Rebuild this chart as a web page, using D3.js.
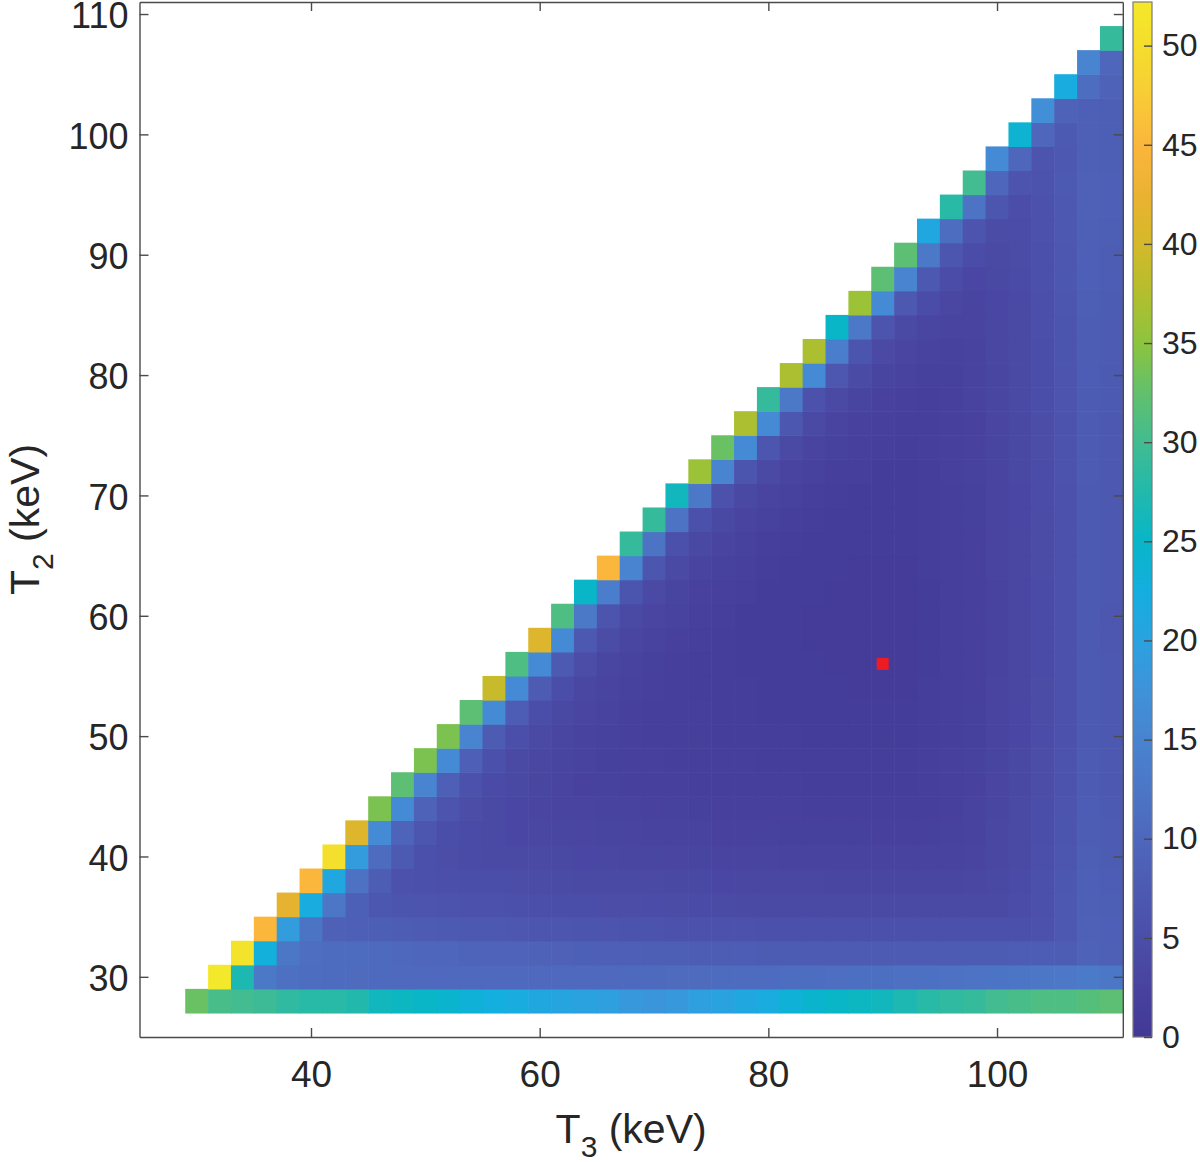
<!DOCTYPE html>
<html><head><meta charset="utf-8">
<script src="https://cdn.jsdelivr.net/npm/d3@7"></script>
<style>
body{margin:0;background:#fff}
svg{display:block}
text{font-family:"Liberation Sans",Arial,Helvetica,sans-serif;fill:#262626}
</style>
</head><body>
<svg id="chart" width="1200" height="1162"></svg>
<script>
// ---------- data ----------
const t3Values = [30,32,34,36,38,40,42,44,46,48,50,52,54,56,58,60,62,64,66,68,70,72,74,76,78,80,82,84,86,88,90,92,94,96,98,100,102,104,106,108,110];
const t2Values = [28,30,32,34,36,38,40,42,44,46,48,50,52,54,56,58,60,62,64,66,68,70,72,74,76,78,80,82,84,86,88,90,92,94,96,98,100,102,104,106,108];
// one row per T2 value; each row starts at T3 = T2 + 2 and runs to T3 = 110
const cellRows = [
 [33,30.5,30,29.5,28.5,28,28,27.5,26,25.5,25,24.5,23.5,22.5,22,21,20.5,20,19.5,18.5,18,18.5,19.5,20,21,22,23.5,24.5,25,25.5,26,27,28,28.5,29,30,30.5,31,31,31.5,32],
 [52.2,27,13,11.5,11,10.8,10.6,10.5,10.4,10.4,10.3,10.3,10.3,10.3,10.3,10.3,10.4,10.4,10.5,10.5,10.6,10.6,10.7,10.8,10.9,11.0,11.1,11.2,11.3,11.4,11.5,11.6,11.8,12.0,12.2,12.4,12.6,12.8,13.2,12.5],
 [51,23,12.5,11.2,10.9,10.7,10.5,10.2,10.0,9.8,9.5,9.3,9.2,9.0,8.8,8.7,8.5,8.4,8.3,8.2,8.1,8.0,7.9,7.8,7.8,7.7,7.7,7.7,7.7,7.7,7.7,7.7,7.8,7.8,7.9,7.9,8.0,9.1,8.6],
 [45,19,12.2,8.8,8.5,8.2,8.0,7.7,7.5,7.3,7.1,6.9,6.7,6.6,6.4,6.3,6.1,6.0,5.9,5.8,5.7,5.7,5.6,5.5,5.5,5.5,5.5,5.4,5.4,5.5,5.5,5.5,5.6,5.6,5.9,7.2,8.8,8.4],
 [42,22,12.6,8.7,6.8,6.5,6.3,6.1,5.9,5.7,5.5,5.3,5.1,5.0,4.8,4.7,4.6,4.5,4.4,4.3,4.2,4.2,4.1,4.1,4.0,4.0,4.0,4.0,4.0,4.1,4.1,4.1,4.6,5.6,7.0,8.6,8.2],
 [45,21,11.8,8.1,5.9,5.5,5.3,5.1,4.9,4.7,4.5,4.3,4.2,4.0,3.9,3.8,3.7,3.6,3.5,3.4,3.3,3.3,3.3,3.2,3.2,3.2,3.2,3.2,3.2,3.3,3.6,4.4,5.4,6.8,8.4,7.9],
 [50.5,19,10.8,7.4,5.5,4.8,4.4,4.2,4.0,3.8,3.6,3.5,3.3,3.2,3.1,3.0,2.9,2.8,2.7,2.7,2.6,2.6,2.5,2.5,2.5,2.5,2.5,2.6,2.8,3.4,4.2,5.2,6.6,8.2,7.8],
 [41,16,9.5,6.7,5.1,4.4,3.8,3.5,3.3,3.2,3.0,2.9,2.7,2.6,2.5,2.4,2.3,2.3,2.2,2.1,2.1,2.1,2.1,2.0,2.0,2.1,2.2,2.6,3.3,4.0,5.1,6.4,8.0,7.6],
 [34,16,9.1,6.3,4.7,4.0,3.5,3.0,2.8,2.7,2.5,2.4,2.3,2.2,2.1,2.0,1.9,1.8,1.8,1.7,1.7,1.7,1.7,1.7,1.7,2.0,2.5,3.1,3.9,4.9,6.3,7.9,7.4],
 [32,15,8.4,5.8,4.4,3.7,3.2,2.7,2.3,2.2,2.0,1.9,1.8,1.7,1.6,1.6,1.5,1.5,1.4,1.4,1.4,1.4,1.4,1.6,1.9,2.3,3.0,3.7,4.8,6.1,7.7,7.3],
 [34,16,8.4,5.6,4.1,3.4,2.9,2.5,2.1,1.9,1.8,1.7,1.6,1.5,1.5,1.4,1.3,1.3,1.3,1.3,1.3,1.3,1.5,1.8,2.2,2.9,3.6,4.7,6.0,7.6,7.2],
 [34,15,7.8,5.2,3.9,3.2,2.6,2.2,1.9,1.7,1.6,1.5,1.4,1.4,1.3,1.3,1.2,1.2,1.2,1.2,1.2,1.4,1.7,2.1,2.8,3.5,4.6,5.9,7.5,7.1],
 [32,16,7.9,5.1,3.6,3.0,2.4,2.0,1.7,1.6,1.5,1.4,1.3,1.2,1.2,1.1,1.1,1.1,1.1,1.1,1.3,1.6,2.1,2.7,3.5,4.5,5.9,7.5,7.0],
 [39,16,7.6,4.9,3.4,2.8,2.2,1.9,1.5,1.4,1.3,1.3,1.2,1.1,1.1,1.1,1.0,1.0,1.0,1.3,1.6,2.0,2.7,3.4,4.5,5.8,7.4,7.0],
 [31,16,7.4,4.7,3.2,2.6,2.1,1.7,1.4,1.3,1.2,1.2,1.1,1.1,1.0,1.0,0.8,1.0,1.2,1.6,2.0,2.6,3.4,4.4,5.8,7.4,7.0],
 [41,16,7.3,4.5,3.1,2.5,2.0,1.6,1.3,1.2,1.1,1.1,1.0,1.0,1.0,1.0,1.0,1.2,1.5,2.0,2.6,3.4,4.4,5.8,7.4,6.9],
 [31,13,6.2,4.1,3.0,2.4,1.9,1.5,1.2,1.1,1.1,1.0,1.0,1.0,1.0,1.0,1.2,1.5,2.0,2.6,3.4,4.4,5.8,7.4,6.9],
 [25,14,6.4,4.1,2.9,2.3,1.8,1.5,1.2,1.1,1.1,1.0,1.0,1.0,1.0,1.2,1.6,2.0,2.6,3.4,4.4,5.8,7.4,7.0],
 [45,15,6.6,4.1,2.8,2.2,1.8,1.4,1.1,1.1,1.1,1.0,1.0,1.0,1.3,1.6,2.0,2.7,3.4,4.5,5.8,7.4,7.0],
 [29,12,5.6,3.7,2.8,2.2,1.7,1.4,1.1,1.1,1.1,1.1,1.1,1.3,1.6,2.0,2.7,3.4,4.5,5.9,7.4,7.0],
 [29,12,5.6,3.6,2.7,2.2,1.7,1.4,1.1,1.1,1.1,1.1,1.3,1.7,2.1,2.7,3.5,4.5,5.9,7.5,7.1],
 [26,13,5.8,3.7,2.7,2.2,1.7,1.4,1.2,1.2,1.2,1.4,1.7,2.1,2.8,3.5,4.6,5.9,7.5,7.1],
 [36,15,6.4,4.0,2.7,2.2,1.7,1.5,1.2,1.2,1.4,1.8,2.2,2.8,3.6,4.6,6.0,7.6,7.2],
 [33,16,6.7,4.1,2.7,2.2,1.8,1.5,1.3,1.5,1.8,2.3,2.9,3.6,4.7,6.1,7.6,7.2],
 [37,16,6.8,4.1,2.8,2.3,1.9,1.6,1.6,1.9,2.3,3.0,3.7,4.8,6.1,7.7,7.3],
 [29,13,5.9,3.8,2.9,2.3,1.9,1.7,2.0,2.4,3.1,3.8,4.9,6.2,7.8,7.4],
 [37,16,6.9,4.3,2.9,2.4,2.1,2.1,2.5,3.2,3.9,5.0,6.3,7.9,7.5],
 [37,14,6.4,4.1,3.0,2.6,2.2,2.6,3.3,4.0,5.1,6.4,8.0,7.6],
 [25,13,6.2,4.1,3.2,2.7,2.7,3.4,4.1,5.2,6.5,8.1,7.7],
 [36,16,7.2,4.6,3.3,2.8,3.5,4.2,5.3,6.7,8.2,7.8],
 [32,15,7.0,4.6,3.5,3.6,4.4,5.4,6.8,8.4,7.9],
 [32,13,6.6,4.6,3.8,4.5,5.6,6.9,8.5,8.1],
 [21,11,6.2,4.5,4.6,5.7,7.1,8.6,8.2],
 [28,12,6.7,4.8,5.9,7.2,8.8,8.4],
 [30,10,6.3,6.0,7.4,8.8,8.4],
 [16,10,6.3,7.3,8.6,8.3],
 [24,10,7.4,8.6,8.3],
 [17,9,8.5,8.3],
 [22,11,9.0],
 [15,10],
 [29]
];
const bestFit = [90, 56];          // [T3, T2] of the red marker
const xTicks = [40, 60, 80, 100];
const yTicks = [30, 40, 50, 60, 70, 80, 90, 100, 110];
const cbTicks = [0, 5, 10, 15, 20, 25, 30, 35, 40, 45, 50];
const cbMax = 52.2;

// colormap (parula-like, as seen in the colorbar)
const cmapVals = [0,2.5,5,7.5,10,12.5,15,17.5,20,22.5,25,27.5,30,32.5,35,37.5,40,42.5,45,47.5,50,52.2];
const cmapCols = ["#433896","#48439f","#4b4ea8","#4d5ab2","#4e67bc","#4c76c6","#4884d0","#3f92d9","#2aa2e0","#14aedf","#08b6c8","#22b9ac","#42bc90","#62c06c","#8cc43e","#b3be2e","#d4b92a","#ebb232","#fbb63c","#f8cc36","#f4de2c","#f4e82a"];

// ---------- drawing ----------
const svg = d3.select("#chart");
const x = d3.scaleLinear().domain([25, 111]).range([139.5, 1122.8]);
const y = d3.scaleLinear().domain([25, 111]).range([1037, 2]);
const color = d3.scaleLinear().domain(cmapVals).range(cmapCols).interpolate(d3.interpolateRgb).clamp(true);

const cells = [];
cellRows.forEach((row, i) => {
  row.forEach((v, j) => cells.push({t2: t2Values[i], t3: t3Values[i + j], v}));
});

svg.append("g").selectAll("rect").data(cells).join("rect")
  .attr("x", d => x(d.t3 - 1))
  .attr("y", d => y(d.t2 + 1))
  .attr("width", d => x(d.t3 + 1) - x(d.t3 - 1) + 0.6)
  .attr("height", d => y(d.t2 - 1) - y(d.t2 + 1) + 0.6)
  .attr("fill", d => color(d.v));

// red marker
svg.append("rect")
  .attr("x", x(bestFit[0]) - 6).attr("y", y(bestFit[1]) - 6)
  .attr("width", 12).attr("height", 12).attr("fill", "#ed1c24");

// axes
const axisColor = "#4a4a4a";
function styleAxis(g, fs) {
  g.select(".domain").attr("stroke", axisColor).attr("stroke-width", 1.4);
  g.selectAll(".tick line").attr("stroke", axisColor).attr("stroke-width", 1.4);
  g.selectAll(".tick text").attr("fill", "#262626").style("font-size", fs + "px")
    .style("font-family", '"Liberation Sans", Arial, sans-serif');
}
svg.append("g").attr("transform", `translate(0,${y(25)})`)
  .call(d3.axisBottom(x).tickValues(xTicks).tickSize(-9).tickSizeOuter(0).tickPadding(24))
  .call(g => styleAxis(g, 37));
svg.append("g").attr("transform", `translate(0,${y(111)})`)
  .call(d3.axisTop(x).tickValues(xTicks).tickSize(-9).tickSizeOuter(0).tickFormat(""))
  .call(g => styleAxis(g, 37));
svg.append("g").attr("transform", `translate(${x(25)},0)`)
  .call(d3.axisLeft(y).tickValues(yTicks).tickSize(-9).tickSizeOuter(0).tickPadding(11))
  .call(g => { styleAxis(g, 36); g.selectAll(".tick text").attr("dy", "0.38em"); });
svg.append("g").attr("transform", `translate(${x(111)},0)`)
  .call(d3.axisRight(y).tickValues(yTicks).tickSize(-9).tickSizeOuter(0).tickFormat(""))
  .call(g => styleAxis(g, 37));

// axis labels
const xl = svg.append("text").attr("x", (x(25) + x(111)) / 2).attr("y", 1143)
  .attr("text-anchor", "middle").style("font-size", "41px");
xl.append("tspan").text("T");
xl.append("tspan").attr("dy", 14).style("font-size", "30px").text("3");
xl.append("tspan").attr("dy", -14).text(" (keV)");

const yl = svg.append("text").attr("transform", `translate(39,${(y(25) + y(111)) / 2}) rotate(-90)`)
  .attr("text-anchor", "middle").style("font-size", "41px");
yl.append("tspan").text("T");
yl.append("tspan").attr("dy", 14).style("font-size", "30px").text("2");
yl.append("tspan").attr("dy", -14).text(" (keV)");

// colorbar
const cb = d3.scaleLinear().domain([0, cbMax]).range([1037, 2]);
const cbX0 = 1133, cbX1 = 1152;
const grad = svg.append("defs").append("linearGradient").attr("id", "cbgrad")
  .attr("x1", 0).attr("y1", 1).attr("x2", 0).attr("y2", 0);
grad.selectAll("stop").data(cmapVals).join("stop")
  .attr("offset", d => d / cbMax).attr("stop-color", (d, i) => cmapCols[i]);
svg.append("rect").attr("x", cbX0).attr("y", cb(cbMax)).attr("width", cbX1 - cbX0)
  .attr("height", cb(0) - cb(cbMax)).attr("fill", "url(#cbgrad)")
  .attr("stroke", "#7a7a7a").attr("stroke-width", 1.2);
svg.append("g").attr("transform", `translate(${cbX1},0)`)
  .call(d3.axisRight(cb).tickValues(cbTicks).tickSize(-8).tickSizeOuter(0).tickPadding(10))
  .call(g => { styleAxis(g, 32); g.select(".domain").remove(); });
</script>
</body></html>
